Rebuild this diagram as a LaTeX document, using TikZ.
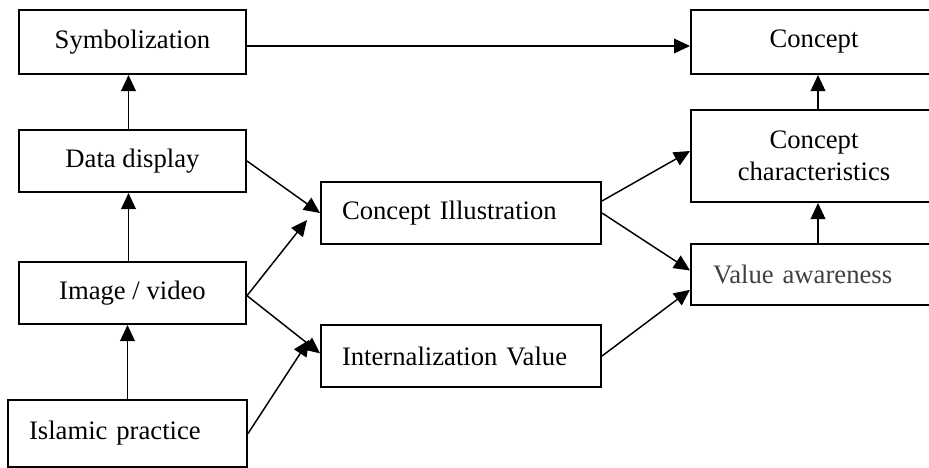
\documentclass[tikz,border=0pt]{standalone}
\usepackage{fontspec}
\setmainfont{Liberation Serif}
\usetikzlibrary{arrows.meta}

\begin{document}
\begin{tikzpicture}[x=0.75pt,y=-0.75pt,every node/.style={draw,line width=1.5pt,inner sep=0pt,font=\fontsize{20}{24}\selectfont},
  link/.style={line width=1.1pt,-{Triangle[length=12pt,width=11pt]}},
  leftbox/.style={align=left,inner xsep=15.75pt,minimum height=46.5pt}]
\clip (0,0) rectangle (929,468);
\node[minimum width=170.25pt,minimum height=48pt] (sym) at (132.5,42) {Symbolization};
\node[minimum width=170.25pt,minimum height=46.5pt] (dd) at (132.5,161) {Data display};
\node[minimum width=170.25pt,minimum height=46.5pt] (img) at (132.5,293) {Image / video};
\node[leftbox,text width=147.75pt,minimum height=50.25pt] (isl) at (127.5,433.5) {Islamic practice};
\node[leftbox,text width=178.5pt] (ci) at (461,213) {Concept Illustration};
\node[leftbox,text width=178.5pt] (iv) at (461,356) {Internalization Value};
\node[minimum width=184.5pt,minimum height=48pt] (con) at (814,42) {Concept};
\node[minimum width=184.5pt,minimum height=69pt,align=center] (cc) at (814,156) {Concept\\characteristics};
\node[leftbox,text width=151.5pt,inner xsep=16.5pt,minimum height=45.75pt,text=black!75] (va) at (814,274.5) {Value awareness};
\coordinate (ciin) at ([xshift=-9.75pt,yshift=-5.25pt]ci.west);
\coordinate (ivin) at ([xshift=-8.25pt,yshift=12pt]iv.west);
\draw[link] ([yshift=-3pt]sym.east) -- ([yshift=-3pt]con.west);
\draw[link] ([xshift=-3pt]dd.north) -- ([xshift=-3pt]sym.south);
\draw[link] ([xshift=-3pt]img.north) -- ([xshift=-3pt]dd.south);
\draw[link] (isl.north) -- (isl.north |- img.south);
\draw[link] (dd.east) -- (ci.west);
\draw[link] ([yshift=-2pt]img.east) -- (ciin);
\draw[link] ([yshift=-2pt]img.east) -- ([yshift=2pt]iv.west);
\draw[link] (isl.east) -- (ivin);
\draw[link] ([yshift=9pt]ci.east) -- ([yshift=3.75pt]cc.west);
\draw[link] (ci.east) -- ([yshift=3pt]va.west);
\draw[link] (iv.east) -- ([yshift=-11.5pt]va.west);
\draw[link] ([xshift=3pt]va.north) -- ([xshift=3pt]cc.south);
\draw[link] ([xshift=3pt]cc.north) -- ([xshift=3pt]con.south);
\end{tikzpicture}
\end{document}
